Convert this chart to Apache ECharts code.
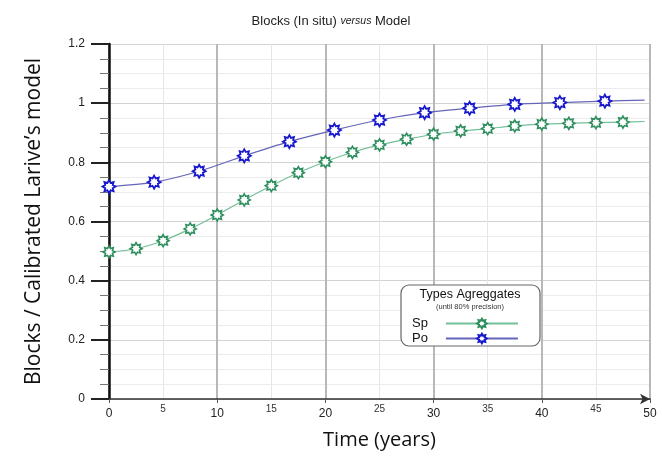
<!DOCTYPE html>
<html>
<head>
<meta charset="utf-8">
<script src="https://cdn.jsdelivr.net/npm/echarts@6/dist/echarts.min.js"></script>
<style>
  html, body { margin: 0; padding: 0; background: #fff; }
  #chart { width: 662px; height: 466px; }
</style>
</head>
<body>
<div id="chart"></div>
<script>
// Sp aggregates: sampled every 2.5 years
var spTime = [0, 2.5, 5, 7.5, 10, 12.5, 15, 17.5, 20, 22.5, 25, 27.5, 30, 32.5, 35, 37.5, 40, 42.5, 45, 47.5];
var spValue = [0.497, 0.508, 0.535, 0.575, 0.622, 0.673, 0.721, 0.765, 0.802, 0.834, 0.859, 0.878, 0.895, 0.906, 0.914, 0.923, 0.929, 0.932, 0.934, 0.936];
// curve continues past the last marker
var spTail = [49.5, 0.938];

// Po aggregates: sampled every 50/12 years
var poTime = [0, 4.17, 8.33, 12.5, 16.67, 20.83, 25, 29.17, 33.33, 37.5, 41.67, 45.83];
var poValue = [0.718, 0.733, 0.770, 0.822, 0.870, 0.909, 0.943, 0.968, 0.983, 0.996, 1.002, 1.007];
var poTail = [49.5, 1.010];

var seriesNames = ['Sp', 'Po'];
var titleParts = ['Blocks (In situ) ', 'versus', ' Model'];
var legendTitle = 'Types Agreggates';
var legendNote = '(until 80% precision)';
var xAxisName = 'Time (years)';
var yAxisName = 'Blocks / Calibrated Larive\u2019s model';

// eight-pointed outline star used as the point marker
var starPath = 'path://M10,0 L12.40,4.21 L17.07,2.93 L15.79,7.60 L20,10 L15.79,12.40 L17.07,17.07 L12.40,15.79 L10,20 L7.60,15.79 L2.93,17.07 L4.21,12.40 L0,10 L4.21,7.60 L2.93,2.93 L7.60,4.21 Z';

function buildData(ts, vs, tail) {
  var out = ts.map(function (t, i) { return [t, vs[i]]; });
  out.push({ value: tail, symbol: 'none' });
  return out;
}

var chart = echarts.init(document.getElementById('chart'), null, { renderer: 'canvas' });

var font = 'Liberation Sans, Arial, sans-serif';

chart.setOption({
  animation: false,
  backgroundColor: '#fff',
  title: {
    left: 'center',
    top: 10,
    text: '{a|' + titleParts[0] + '}{i|' + titleParts[1] + '}{a|' + titleParts[2] + '}',
    textStyle: {
      fontWeight: 'normal',
      rich: {
        a: { fontFamily: font, fontSize: 13, fontWeight: 'normal', color: '#222' },
        i: { fontFamily: font, fontSize: 10.5, fontWeight: 'normal', fontStyle: 'italic', color: '#222' }
      }
    }
  },
  grid: { left: 109, right: 12, top: 44, bottom: 67 },
  xAxis: [
    {
      type: 'value', min: 0, max: 50, interval: 10,
      name: xAxisName, nameLocation: 'middle', nameGap: 31,
      nameTextStyle: { fontFamily: 'Open Sans, Noto Sans, sans-serif', fontSize: 20, color: '#111' },
      axisLine: { show: true, symbol: ['none', 'arrow'], symbolSize: [8, 10], lineStyle: { color: '#333', width: 1.5 } },
      axisTick: { show: true, length: 4, lineStyle: { color: '#555' } },
      axisLabel: { margin: 9, fontFamily: font, fontSize: 12, color: '#222' },
      splitLine: { show: true, lineStyle: { color: '#b8b8b8', width: 2 } }
    },
    {
      type: 'value', min: 0, max: 50, interval: 5, position: 'bottom',
      axisLine: { show: false },
      axisTick: { show: false },
      axisLabel: {
        margin: 5, fontFamily: font, fontSize: 10, color: '#333',
        formatter: function (v) { return v % 10 === 0 ? '' : String(v); }
      },
      splitLine: { show: true, lineStyle: { color: ['transparent', '#e6e6e6'], width: 1 } }
    }
  ],
  yAxis: {
    type: 'value', min: 0, max: 1.2, interval: 0.2,
    name: yAxisName, nameLocation: 'middle', nameGap: 64, nameRotate: 90,
    nameTextStyle: { fontFamily: 'Open Sans, Noto Sans, sans-serif', fontSize: 21, color: '#111' },
    axisLine: { show: true, lineStyle: { color: '#111', width: 2.5 } },
    axisTick: { show: true, inside: false, length: 18, lineStyle: { color: '#222', width: 2 } },
    minorTick: { show: true, splitNumber: 4, length: 9, lineStyle: { color: '#777', width: 1 } },
    axisLabel: { margin: 24, fontFamily: font, fontSize: 12, color: '#222' },
    splitLine: { show: true, lineStyle: { color: '#d2d2d2', width: 1 } },
    minorSplitLine: { show: true, lineStyle: { color: '#ececec', width: 1 } }
  },
  legend: {
    show: true,
    orient: 'vertical',
    left: 407, top: 312,
    align: 'right',
    itemWidth: 72, itemHeight: 12, itemGap: 2,
    z: 5,
    formatter: '{n|{name}}',
    textStyle: {
      fontFamily: font, fontSize: 13, color: '#111',
      rich: { n: { fontFamily: font, fontSize: 13, color: '#111', padding: [0, 13, 0, 0] } }
    },
    data: seriesNames
  },
  graphic: [
    {
      type: 'rect', z: 3,
      shape: { x: 401, y: 285, width: 139, height: 61, r: 8 },
      style: { fill: '#fff', stroke: '#666', lineWidth: 1.2 }
    },
    {
      type: 'text', z: 4, x: 470, y: 295,
      style: { text: legendTitle, fontFamily: font, fontSize: 12.5, fill: '#111', align: 'center', verticalAlign: 'middle' }
    },
    {
      type: 'text', z: 4, x: 470, y: 307,
      style: { text: legendNote, fontFamily: font, fontSize: 7.5, fill: '#333', align: 'center', verticalAlign: 'middle' }
    }
  ],
  series: [
    {
      name: seriesNames[0], type: 'line', xAxisIndex: 0,
      smooth: 0.3,
      symbol: starPath, symbolSize: 12, showAllSymbol: true,
      lineStyle: { color: '#72bf98', width: 1.2 },
      itemStyle: { color: '#fff', borderColor: '#2e8e5e', borderWidth: 1.6 },
      data: buildData(spTime, spValue, spTail)
    },
    {
      name: seriesNames[1], type: 'line', xAxisIndex: 0,
      smooth: 0.3,
      symbol: starPath, symbolSize: 13, showAllSymbol: true,
      lineStyle: { color: '#6464b8', width: 1.2 },
      itemStyle: { color: '#fff', borderColor: '#1818cc', borderWidth: 1.8 },
      data: buildData(poTime, poValue, poTail)
    }
  ]
});
</script>
</body>
</html>
